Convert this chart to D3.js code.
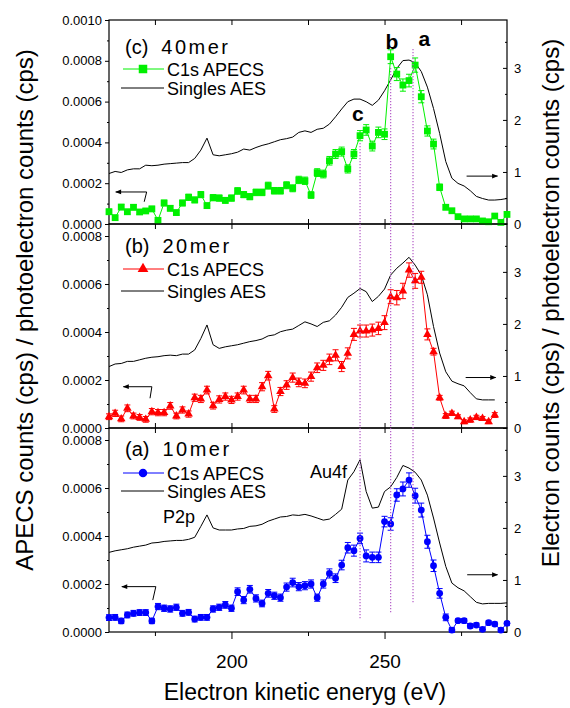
<!DOCTYPE html>
<html>
<head>
<meta charset="utf-8">
<script src="https://cdn.jsdelivr.net/npm/d3@7"></script>
<style>
body { margin: 0; background: #fff; }
svg { display: block; font-family: "Liberation Sans", Arial, sans-serif; }
</style>
</head>
<body>
<div id="chart"></div>
<script>
// kinetic energy grid (eV)
var energy = [160,162,164,166,168,170,172,174,176,178,180,182,184,186,188,190,192,194,196,198,200,
              202,204,206,208,210,212,214,216,218,220,222,224,226,228,230,232,234,236,238,240,242,
              244,246,248,250,252,254,256,258,260,262,264,266,268,270,272,274,276,278,280,282,284,
              286,288,290];

// APECS counts in units of 1e-4 cps, errors in same units, singles AES on right axis
var apecs40 = [0.60,0.31,0.83,0.60,0.82,0.59,0.64,0.74,0.18,1.03,0.77,0.56,1.03,1.31,1.18,1.44,0.90,1.29,1.27,1.16,1.27,1.62,1.44,1.34,1.55,1.55,1.88,1.63,1.63,1.90,1.75,
               2.16,2.12,1.42,2.52,2.45,3.10,3.43,3.55,2.70,3.43,4.33,4.61,3.82,4.49,4.40,8.20,7.35,6.81,7.03,7.79,6.24,4.56,3.92,1.80,0.82,0.65,0.36,0.25,0.25,0.25,0.15,0.11,0.39,0.08,0.47];
var err40 = [0.13,0.12,0.13,0.12,0.13,0.12,0.12,0.13,0.11,0.14,0.13,0.12,0.14,0.15,0.14,0.15,0.13,0.15,0.15,0.14,0.15,0.16,0.15,0.15,0.16,0.16,0.17,0.16,0.16,0.17,0.17,
             0.18,0.18,0.16,0.19,0.19,0.21,0.22,0.22,0.2,0.22,0.25,0.26,0.24,0.26,0.26,0.34,0.32,0.3,0.31,0.35,0.3,0.25,0.24,0.16,0.12,0.1,0.09,0.08,0.08,0.08,0.07,0.07,0.09,0.07,0.1];
var aes40 = [0.97,1.01,0.99,1.04,1.06,1.06,1.13,1.12,1.13,1.15,1.16,1.17,1.18,1.18,1.26,1.42,1.65,1.33,1.31,1.33,1.35,1.38,1.44,1.42,1.47,1.51,1.54,1.58,1.62,1.64,1.67,
             1.76,1.79,1.76,1.82,1.84,1.92,2.06,2.21,2.35,2.40,2.40,2.35,2.28,2.38,2.56,2.77,2.99,3.14,3.15,3.10,2.93,2.63,2.22,1.74,1.20,0.88,0.78,0.73,0.64,0.53,0.49,0.46,0.46,0.47,0.49];

var apecs20 = [0.47,0.61,0.38,0.82,0.50,0.44,0.36,0.68,0.64,0.64,0.92,0.50,0.75,0.58,1.26,1.21,1.58,0.93,1.19,1.31,1.17,1.31,1.58,1.21,1.21,1.72,2.18,0.79,1.52,1.79,2.10,
               1.90,1.86,2.14,2.51,2.61,2.86,3.03,2.56,3.11,3.90,4.04,4.04,4.08,4.15,4.39,5.47,5.43,5.71,6.58,6.13,6.28,3.90,3.18,1.26,0.50,0.61,0.47,0.26,0.33,0.44,0.40,0.26,0.54];
var err20 = [0.12,0.13,0.12,0.14,0.12,0.12,0.12,0.13,0.13,0.13,0.14,0.12,0.13,0.13,0.15,0.15,0.16,0.14,0.15,0.15,0.15,0.15,0.16,0.15,0.15,0.17,0.18,0.14,0.17,0.18,0.19,
             0.18,0.18,0.19,0.2,0.21,0.22,0.23,0.21,0.23,0.25,0.25,0.25,0.25,0.26,0.29,0.29,0.3,0.32,0.3,0.31,0.25,0.23,0.14,0.1,0.1,0.09,0.08,0.08,0.09,0.09,0.08,0.08,0.1];
var aes20 = [1.18,1.23,1.24,1.28,1.28,1.31,1.34,1.36,1.37,1.39,1.40,1.39,1.42,1.42,1.50,1.72,1.98,1.60,1.53,1.56,1.58,1.60,1.63,1.66,1.68,1.71,1.77,1.79,1.85,1.88,1.90,
             1.97,2.04,2.00,1.95,2.03,2.06,2.17,2.32,2.51,2.59,2.68,2.62,2.43,2.53,2.67,2.94,3.07,3.17,3.28,3.13,2.94,2.56,1.95,1.44,1.08,0.90,0.85,0.81,0.68,0.56,0.54,0.54,0.54];

var apecs10 = [0.60,0.61,0.46,0.71,0.78,0.81,0.81,0.46,1.06,0.99,0.96,1.03,0.78,0.82,0.54,0.61,0.61,0.96,1.03,1.13,0.99,1.68,1.33,1.78,1.40,1.19,1.61,1.51,1.43,1.87,2.06,
               1.89,1.93,2.00,1.43,2.00,2.44,2.24,2.79,3.51,3.39,3.90,3.17,3.11,3.11,4.60,4.50,5.71,5.96,6.33,5.68,5.08,3.76,2.76,1.61,0.61,0.08,0.47,0.47,0.25,0.29,0.11,0.39,0.33,0.08,0.36];
var err10 = [0.12,0.12,0.11,0.12,0.12,0.12,0.12,0.11,0.13,0.13,0.13,0.13,0.12,0.12,0.12,0.12,0.12,0.13,0.13,0.14,0.13,0.16,0.15,0.16,0.15,0.14,0.16,0.15,0.15,0.17,0.18,
             0.17,0.17,0.17,0.15,0.17,0.19,0.18,0.2,0.22,0.23,0.22,0.25,0.22,0.22,0.22,0.26,0.26,0.29,0.3,0.31,0.29,0.27,0.24,0.2,0.14,0.1,0.07,0.09,0.09,0.08,0.08,0.07,0.08,0.08,0.07];
var aes10 = [1.53,1.56,1.58,1.60,1.63,1.65,1.67,1.71,1.72,1.74,1.75,1.76,1.76,1.78,1.82,2.03,2.25,2.00,1.96,1.96,1.96,1.98,1.99,2.03,2.04,2.07,2.13,2.17,2.21,2.22,2.25,
             2.24,2.26,2.23,2.19,2.15,2.17,2.26,2.36,2.92,3.08,3.31,2.70,2.38,2.40,2.70,2.79,2.97,3.20,3.15,3.07,2.92,2.63,2.19,1.71,1.26,0.94,0.85,0.79,0.68,0.57,0.54,0.55,0.55,0.55,0.56];

var xMajor = [200, 250];
var xMinor = [175, 225, 275];
var rightTicks = [0, 1, 2, 3];
var rightMinor = [0.5, 1.5, 2.5, 3.5];

// reference lines: energy, top value (top panel, 1e-4), bottom value (bottom panel, 1e-4)
var refLines = [[242, 3.97, 0.54], [252, 7.65, 0.79], [259.3, 8.58, 1.21]];
// peak letters: text, energy, right-axis value of the top panel
var refLabels = [["a", 261.1, 3.42], ["b", 250.3, 3.37], ["c", 239.4, 1.97]];

var W = 570, H = 708, L = 109, R = 507;
var UNIT = 1e-4;

var svg = d3.select("#chart").append("svg").attr("width", W).attr("height", H);

var x = d3.scaleLinear().domain([160, 290]).range([L, R]);

var panels = [
    {top: 20, bottom: 224, lmax: 0.001, lticks: [0,0.0002,0.0004,0.0006,0.0008,0.001], lminor: [0.0001,0.0003,0.0005,0.0007,0.0009],
     tag: "(c)", mer: "40mer", color: "#00f000", shape: "square", ys: apecs40, es: err40, aes: aes40,
     labY: 34, legY: 49, sY: 68, arL: [172.3, 1.57, 171.5, 1.09, 162.2], arR: [276.8, 286.9, 0.92]},
    {top: 224, bottom: 428, lmax: 0.00085, lticks: [0,0.0002,0.0004,0.0006,0.0008], lminor: [0.0001,0.0003,0.0005,0.0007],
     tag: "(b)", mer: "20mer", color: "#ff0000", shape: "triangle", ys: apecs20, es: err20, aes: aes20,
     labY: 29, legY: 45, sY: 67, arL: [174.0, 1.72, 173.4, 1.24, 164.7], arR: [276.5, 286.3, 0.97]},
    {top: 428, bottom: 632, lmax: 0.00085, lticks: [0,0.0002,0.0004,0.0006,0.0008], lminor: [0.0001,0.0003,0.0005,0.0007],
     tag: "(a)", mer: "10mer", color: "#0000ff", shape: "circle", ys: apecs10, es: err10, aes: aes10,
     labY: 28, legY: 45, sY: 63, arL: [175.3, 1.89, 174.3, 1.33, 164.2], arR: [277, 286.9, 1.10]}
];

var defs = svg.append("defs");
defs.append("marker").attr("id", "ah").attr("viewBox", "0 0 10 10")
    .attr("refX", 9).attr("refY", 5).attr("markerWidth", 7).attr("markerHeight", 6)
    .attr("orient", "auto").attr("markerUnits", "userSpaceOnUse")
    .append("path").attr("d", "M0,1 L10,5 L0,9 Z").attr("fill", "#000");

function marker(g, shape, cx, cy, color, big) {
    var s = big ? 1.25 : 1;
    if (shape === "square") {
        g.append("rect").attr("x", cx - 3.4*s).attr("y", cy - 3.4*s)
            .attr("width", 6.8*s).attr("height", 6.8*s).attr("fill", color);
    } else if (shape === "triangle") {
        g.append("path").attr("d", d3.symbol(d3.symbolTriangle, 32*s*s)())
            .attr("transform", "translate(" + cx + "," + (cy) + ")").attr("fill", color);
    } else {
        g.append("circle").attr("cx", cx).attr("cy", cy).attr("r", 3.4*s).attr("fill", color);
    }
}

panels.forEach(function(p, i) {
    var yL = d3.scaleLinear().domain([0, p.lmax]).range([p.bottom, p.top]);
    var yR = d3.scaleLinear().domain([0, 3.92]).range([p.bottom, p.top]);
    p.yL = yL;
    p.yR = yR;
    var g = svg.append("g");

    // left axis
    g.append("g").attr("transform", "translate(" + L + ",0)")
        .call(d3.axisLeft(yL).tickValues(p.lticks).tickSize(4).tickPadding(3).tickFormat(d3.format(".4f")))
        .call(function(a) { a.select(".domain").remove(); a.selectAll("text").attr("font-size", 13).attr("font-family", null); });
    g.append("g").attr("transform", "translate(" + L + ",0)")
        .call(d3.axisLeft(yL).tickValues(p.lminor).tickSize(2).tickFormat(""))
        .call(function(a) { a.select(".domain").remove(); });

    // right axis, ticks inward
    g.append("g").attr("transform", "translate(" + R + ",0)")
        .call(d3.axisRight(yR).tickValues(rightTicks).tickSize(-4).tickPadding(7).tickFormat(d3.format("d")))
        .call(function(a) { a.select(".domain").remove(); a.selectAll("text").attr("font-size", 13).attr("font-family", null); });
    g.append("g").attr("transform", "translate(" + R + ",0)")
        .call(d3.axisRight(yR).tickValues(rightMinor).tickSize(-2).tickFormat(""))
        .call(function(a) { a.select(".domain").remove(); });

    // top x ticks inward
    g.append("g").attr("transform", "translate(0," + p.top + ")")
        .call(d3.axisTop(x).tickValues(xMajor.concat(xMinor)).tickSize(-5).tickFormat(""))
        .call(function(a) { a.select(".domain").remove(); });

    if (i < 2) {
        g.append("g").attr("transform", "translate(0," + p.bottom + ")")
            .call(d3.axisBottom(x).tickValues(xMajor.concat(xMinor)).tickSize(-5).tickFormat(""))
            .call(function(a) { a.select(".domain").remove(); });
    } else {
        g.append("g").attr("transform", "translate(0," + p.bottom + ")")
            .call(d3.axisBottom(x).tickValues(xMajor).tickSize(7).tickPadding(16).tickFormat(d3.format("d")))
            .call(function(a) { a.select(".domain").remove(); a.selectAll("text").attr("font-size", 19).attr("font-family", null); });
        g.append("g").attr("transform", "translate(0," + p.bottom + ")")
            .call(d3.axisBottom(x).tickValues(xMinor).tickSize(4).tickFormat(""))
            .call(function(a) { a.select(".domain").remove(); });
    }

    g.append("rect").attr("x", L).attr("y", p.top).attr("width", R - L).attr("height", p.bottom - p.top)
        .attr("fill", "none").attr("stroke", "#000").attr("stroke-width", 1.2);

    // singles AES
    var aesData = p.aes.map(function(v, k) { return [energy[k], v]; });
    g.append("path").datum(aesData)
        .attr("d", d3.line().x(function(d) { return x(d[0]); }).y(function(d) { return yR(d[1]); }))
        .attr("fill", "none").attr("stroke", "#000").attr("stroke-width", 1);

    // APECS with error bars
    var pts = p.ys.map(function(v, k) { return {e: energy[k], v: v * UNIT, err: p.es[k] * UNIT}; });
    g.append("path").datum(pts)
        .attr("d", d3.line().x(function(d) { return x(d.e); }).y(function(d) { return yL(d.v); }))
        .attr("fill", "none").attr("stroke", p.color).attr("stroke-width", 1);
    var eb = g.append("g").attr("stroke", p.color).attr("stroke-width", 1);
    pts.forEach(function(d) {
        var cx = x(d.e), y1 = yL(d.v - d.err), y2 = yL(d.v + d.err);
        eb.append("line").attr("x1", cx).attr("x2", cx).attr("y1", y1).attr("y2", y2);
        eb.append("line").attr("x1", cx - 3).attr("x2", cx + 3).attr("y1", y1).attr("y2", y1);
        eb.append("line").attr("x1", cx - 3).attr("x2", cx + 3).attr("y1", y2).attr("y2", y2);
    });
    var mk = g.append("g");
    pts.forEach(function(d) { marker(mk, p.shape, x(d.e), yL(d.v), p.color, false); });

    // panel label
    var lab = g.append("text").attr("x", 125).attr("y", p.top + p.labY).attr("font-size", 20);
    lab.append("tspan").text(p.tag);
    lab.append("tspan").attr("dx", 13).attr("letter-spacing", 2.5).text(p.mer);

    // legend
    var ly = p.top + p.legY, sy = p.top + p.sY;
    g.append("line").attr("x1", 123).attr("x2", 164).attr("y1", ly).attr("y2", ly).attr("stroke", p.color).attr("stroke-width", 1);
    marker(g, p.shape, 143, ly, p.color, true);
    g.append("text").attr("x", 167).attr("y", ly + 7).attr("font-size", 18).text("C1s APECS");
    g.append("line").attr("x1", 121).attr("x2", 164).attr("y1", sy).attr("y2", sy).attr("stroke", "#000").attr("stroke-width", 1);
    g.append("text").attr("x", 167).attr("y", sy + 7).attr("font-size", 18).text("Singles AES");

    // arrows
    var a = p.arL;
    g.append("line").attr("x1", x(a[2])).attr("y1", yL(a[3]*UNIT)).attr("x2", x(a[0])).attr("y2", yL(a[1]*UNIT))
        .attr("stroke", "#000").attr("stroke-width", 1);
    g.append("line").attr("x1", x(a[0])).attr("y1", yL(a[1]*UNIT)).attr("x2", x(a[4])).attr("y2", yL(a[1]*UNIT))
        .attr("stroke", "#000").attr("stroke-width", 1).attr("marker-end", "url(#ah)");
    g.append("line").attr("x1", x(p.arR[0])).attr("y1", yR(p.arR[2])).attr("x2", x(p.arR[1])).attr("y2", yR(p.arR[2]))
        .attr("stroke", "#000").attr("stroke-width", 1).attr("marker-end", "url(#ah)");
});

// dotted reference lines across the panels
refLines.forEach(function(r) {
    svg.append("line").attr("x1", x(r[0])).attr("x2", x(r[0]))
        .attr("y1", panels[0].yL(r[1] * UNIT)).attr("y2", panels[2].yL(r[2] * UNIT))
        .attr("stroke", "#b45cc8").attr("stroke-width", 1.2).attr("stroke-dasharray", "1.3,1.7");
});

refLabels.forEach(function(r) {
    svg.append("text").attr("x", x(r[1])).attr("y", panels[0].yR(r[2]))
        .attr("font-size", 21).attr("font-weight", "bold").text(r[0]);
});

// peak names in the bottom panel
svg.append("text").attr("x", 163).attr("y", 523).attr("font-size", 18).text("P2p");
svg.append("text").attr("x", 310).attr("y", 478).attr("font-size", 18).text("Au4f");

// axis titles
svg.append("text").attr("transform", "translate(33,310) rotate(-90)").attr("text-anchor", "middle")
    .attr("font-size", 24).text("APECS counts (cps) / photoelectron counts (cps)");
svg.append("text").attr("transform", "translate(559,303) rotate(-90)").attr("text-anchor", "middle")
    .attr("font-size", 24).text("Electron counts (cps) / photoelectron counts (cps)");
svg.append("text").attr("x", 305).attr("y", 700).attr("text-anchor", "middle")
    .attr("font-size", 23).text("Electron kinetic eneryg (eV)");
</script>
</body>
</html>
